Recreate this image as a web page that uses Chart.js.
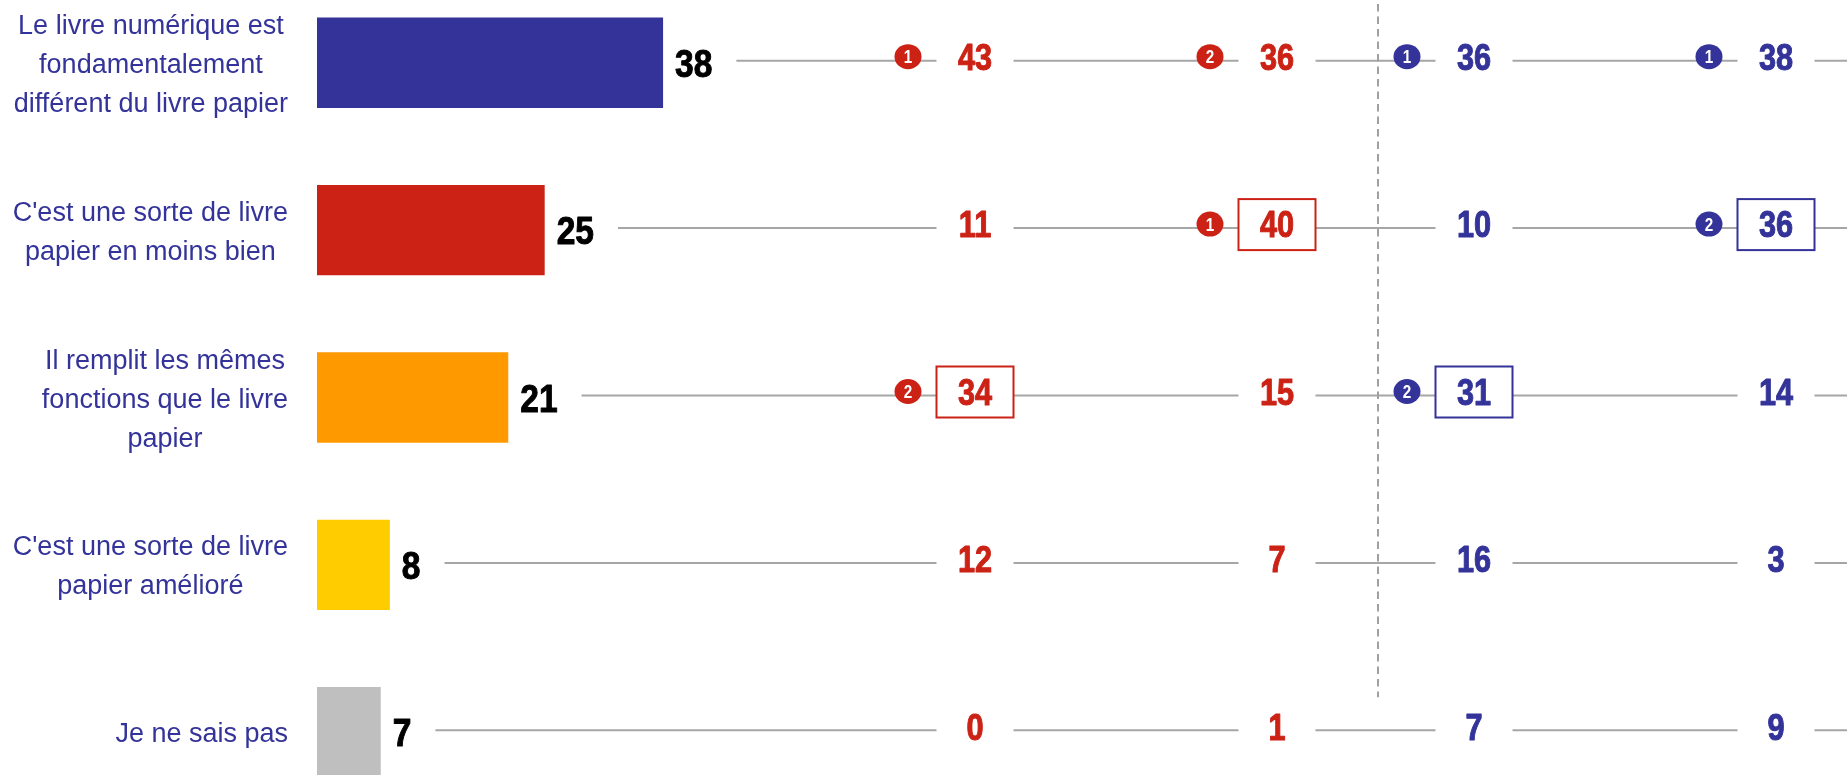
<!DOCTYPE html>
<html>
<head>
<meta charset="utf-8">
<script src="https://cdn.jsdelivr.net/npm/chart.js@4.4.1/dist/chart.umd.min.js"></script>
<style>
  html, body { margin: 0; padding: 0; background: #fff; overflow: hidden; }
  #wrap { position: absolute; left: 0; top: -21px; width: 1847px; height: 837px; }
</style>
</head>
<body>
<div id="wrap"><canvas id="answers-chart"></canvas></div>
<script>
// categories (one array of lines per answer)
const categories = [
  ["Le livre numérique est", "fondamentalement", "différent du livre papier"],
  ["C'est une sorte de livre", "papier en moins bien"],
  ["Il remplit les mêmes", "fonctions que le livre", "papier"],
  ["C'est une sorte de livre", "papier amélioré"],
  ["Je ne sais pas"]
];

// overall answer (%)
const totalValues = [38, 25, 21, 8, 7];

// the four sub-group columns
const redColumnA = [43, 11, 34, 12, 0];
const redColumnB = [36, 40, 15, 7, 1];
const blueColumnA = [36, 10, 31, 16, 7];
const blueColumnB = [38, 36, 14, 3, 9];

// which row is framed in each column
const redBoxedA = [2];
const redBoxedB = [1];
const blueBoxedA = [2];
const blueBoxedB = [1];

const BLUE = "#333399";
const RED = "#cc2216";
const LINE_GREY = "#a6a6a6";
const barColors = [BLUE, RED, "#ff9900", "#ffcc00", "#bfbfbf"];

const FONT = "'Liberation Sans', Arial, sans-serif";

const sideColumns = [
  { values: redColumnA, boxed: redBoxedA, color: RED, x: 975 },
  { values: redColumnB, boxed: redBoxedB, color: RED, x: 1277 },
  { values: blueColumnA, boxed: blueBoxedA, color: BLUE, x: 1474 },
  { values: blueColumnB, boxed: blueBoxedB, color: BLUE, x: 1776 }
];

// the two best answers of a column get a numbered dot
function topTwo(values) {
  const order = values.map((v, i) => i).sort((a, b) => values[b] - values[a]);
  return { [order[0]]: 1, [order[1]]: 2 };
}

// no narrow font installed, so squeeze the bold one (and thicken it a bit)
function condensedText(ctx, text, x, y, align, sx, weight) {
  ctx.save();
  ctx.translate(x, y);
  ctx.scale(sx, 1);
  ctx.textAlign = align;
  ctx.fillText(text, 0, 0);
  if (weight) {
    ctx.strokeStyle = ctx.fillStyle;
    ctx.lineWidth = weight;
    ctx.lineJoin = "round";
    ctx.strokeText(text, 0, 0);
  }
  const w = ctx.measureText(text).width * sx;
  ctx.restore();
  return w;
}

const sidePlugin = {
  id: "sideColumns",
  afterDatasetsDraw(chart) {
    const ctx = chart.ctx;
    const xScale = chart.scales.x;
    const yScale = chart.scales.y;
    const rowY = categories.map((c, i) => yScale.getPixelForValue(i));

    ctx.save();
    ctx.textBaseline = "alphabetic";

    categories.forEach((lines, i) => {
      const cy = rowY[i];

      // question label, lines centred, block right aligned
      ctx.font = "27px " + FONT;
      ctx.fillStyle = BLUE;
      ctx.textAlign = "center";
      const w = Math.max(...lines.map((l) => ctx.measureText(l).width));
      const lx = 288 - w / 2;
      lines.forEach((l, k) => {
        ctx.fillText(l, lx, cy + 10 + (k - (lines.length - 1) / 2) * 39);
      });

      // value after the bar
      const barEnd = xScale.getPixelForValue(totalValues[i]);
      ctx.font = "bold 39px " + FONT;
      ctx.fillStyle = "#000";
      const tw = condensedText(ctx, String(totalValues[i]), barEnd + 12, cy + 14, "left", 0.86, 1);

      // grey guide line
      ctx.strokeStyle = LINE_GREY;
      ctx.lineWidth = 2;
      ctx.beginPath();
      ctx.moveTo(barEnd + 12 + tw + 24, cy - 2);
      ctx.lineTo(chart.width, cy - 2);
      ctx.stroke();
    });

    // dashed separator between red and blue groups
    ctx.strokeStyle = "#a0a0a0";
    ctx.lineWidth = 2;
    ctx.setLineDash([7.5, 5]);
    ctx.beginPath();
    ctx.moveTo(1378, 0);
    ctx.lineTo(1378, rowY[4] - 35);
    ctx.stroke();
    ctx.setLineDash([]);

    sideColumns.forEach((col) => {
      const ranks = topTwo(col.values);
      col.values.forEach((v, i) => {
        const ty = rowY[i] - 6;

        // white gap in the guide line
        ctx.fillStyle = "#fff";
        ctx.fillRect(col.x - 38.5, ty - 25, 77, 51);
        if (col.boxed.includes(i)) {
          ctx.strokeStyle = col.color;
          ctx.lineWidth = 2;
          ctx.strokeRect(col.x - 38.5, ty - 25, 77, 51);
        }

        if (ranks[i]) {
          ctx.fillStyle = col.color;
          ctx.beginPath();
          ctx.ellipse(col.x - 67, ty, 13.5, 12.5, 0, 0, Math.PI * 2);
          ctx.fill();
          ctx.fillStyle = "#fff";
          ctx.font = "bold 18px " + FONT;
          condensedText(ctx, String(ranks[i]), col.x - 67, ty + 6.5, "center", 0.85);
        }

        ctx.fillStyle = col.color;
        ctx.font = "bold 37px " + FONT;
        condensedText(ctx, String(v), col.x, ty + 13.3, "center", 0.83, 1);
      });
    });

    ctx.restore();
  }
};

const answersChart = new Chart(document.getElementById("answers-chart"), {
  type: "bar",
  data: {
    labels: categories,
    datasets: [
      {
        data: totalValues,
        backgroundColor: barColors,
        borderWidth: 0,
        barPercentage: 0.54,
        categoryPercentage: 1
      }
    ]
  },
  options: {
    indexAxis: "y",
    responsive: true,
    maintainAspectRatio: false,
    animation: false,
    layout: { padding: { left: 317, right: 0, top: 0, bottom: 0 } },
    scales: {
      x: { display: false, min: 0, max: 168 },
      y: { display: false }
    },
    plugins: {
      legend: { display: false },
      tooltip: { enabled: false }
    }
  },
  plugins: [sidePlugin]
});
</script>
</body>
</html>
